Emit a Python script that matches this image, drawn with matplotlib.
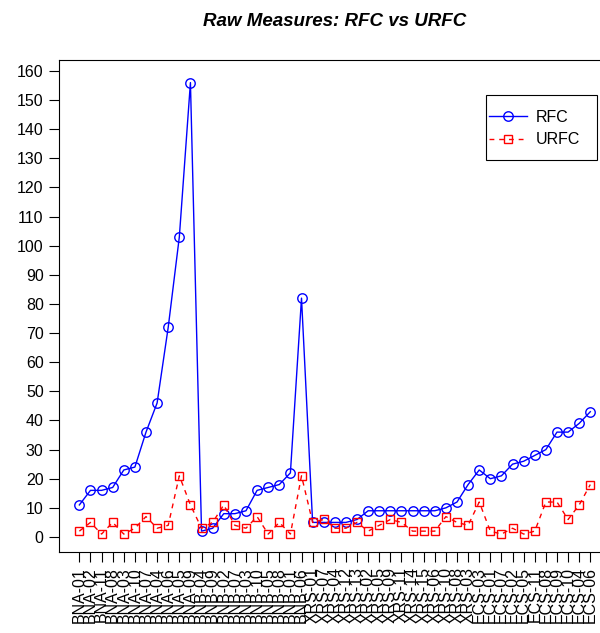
import matplotlib
matplotlib.use("Agg")
import matplotlib.pyplot as plt
from matplotlib.patches import Rectangle

plt.rcParams['font.family'] = ['Liberation Sans', 'DejaVu Sans']

# sample ids along the x axis
labels = ["BNA-01", "BNA-02", "BNA-11", "BNA-08", "BNA-03", "BNA-10", "BNA-07",
          "BNA-04", "BNA-06", "BNA-05", "BNA-09",
          "BNB-04", "BNB-09", "BNB-02", "BNB-07", "BNB-03", "BNB-10", "BNB-05",
          "BNB-08", "BNB-01", "BNB-06",
          "XRS-01", "XRS-07", "XRS-04", "XRS-12", "XRS-13", "XRS-02", "XRS-05",
          "XRS-09", "XRS-11", "XRS-14", "XRS-15", "XRS-06", "XRS-10", "XRS-08",
          "XRS-03",
          "ECS-03", "ECS-01", "ECS-07", "ECS-02", "ECS-05", "ECS-11", "ECS-08",
          "ECS-09", "ECS-10", "ECS-04", "ECS-06"]

rfc = [11, 16, 16, 17, 23, 24, 36, 46, 72, 103, 156,
       2, 3, 8, 8, 9, 16, 17, 18, 22, 82,
       5, 5, 5, 5, 6, 9, 9, 9, 9, 9, 9, 9, 10, 12, 18,
       23, 20, 21, 25, 26, 28, 30, 36, 36, 39, 43]

urfc = [2, 5, 1, 5, 1, 3, 7, 3, 4, 21, 11,
        3, 5, 11, 4, 3, 7, 1, 5, 1, 21,
        5, 6, 3, 3, 5, 2, 4, 6, 5, 2, 2, 2, 7, 5, 4,
        12, 2, 1, 3, 1, 2, 12, 12, 6, 11, 18]

x = list(range(1, len(labels) + 1))

W, H = 600, 633
fig = plt.figure(figsize=(W / 100, H / 100), dpi=100)
ax = fig.add_axes([0.0982, 0.128, 0.9197, 0.7765])

ax.plot(x, rfc, color='blue', lw=1.0, marker='o', ms=6.8, mfc='none',
        mec='blue', mew=1.0, label='RFC')
ax.plot(x, urfc, color='red', lw=1.0, ls=(0, (3.5, 3.5)), marker='s', ms=6.2,
        mfc='none', mec='red', mew=1.0, label='URFC')

ax.set_xlim(1 - 0.04 * 46, 47 + 0.04 * 46)
ax.set_ylim(-5.15, 163.6)
ax.set_yticks(range(0, 161, 10))
ax.set_xticks(x)
ax.set_xticklabels(labels, rotation=90, va='top', ha='center')
ax.tick_params(direction='out', length=7, width=0.8, labelsize=11.5, pad=4)

for s in ax.spines.values():
    s.set_linewidth(0.8)

ax.set_title("Raw Measures: RFC vs URFC", fontsize=13.5, fontweight='bold',
             fontstyle='italic', x=0.5, y=1.0, pad=25)

# legend entries without their own frame, boxed separately
leg = ax.legend(loc='upper left', bbox_to_anchor=(489 / W, 1 - 110 / H),
                bbox_transform=fig.transFigure, fontsize=11.5, frameon=False,
                borderpad=0, handlelength=2.4, labelspacing=0.45,
                borderaxespad=0, handletextpad=0.5)
box = Rectangle((486 / W, 1 - 160 / H), 111 / W, 65 / H,
                transform=fig.transFigure, fill=False, ec='black', lw=0.8)
fig.add_artist(box)

fig.savefig("out.png", dpi=100)
